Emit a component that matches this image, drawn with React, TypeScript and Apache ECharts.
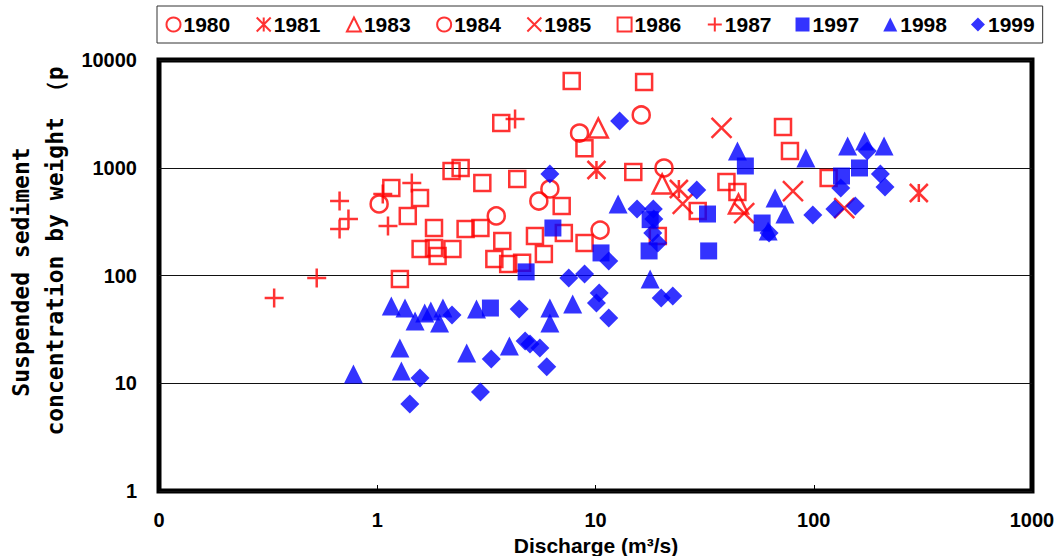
import React, { useEffect, useRef } from "react";
import * as echarts from "echarts";

const seriesNames = ["1980", "1981", "1983", "1984", "1985", "1986", "1987", "1997", "1998", "1999"];

const d1980 = [[1.02, 461], [5.5, 491], [10.5, 264], [20.6, 995]];
const d1981 = [[10.1, 953], [24.1, 635], [303, 583]];
const d1983 = [[10.3, 2340], [20.2, 707], [45.2, 461]];
const d1984 = [[3.51, 357], [6.18, 635], [8.45, 2100], [16.2, 3090]];
const d1985 = [[37.8, 2340], [80.3, 608], [25.1, 461], [48, 380], [138, 423]];
const d1986 = [
  [7.78, 6380], [16.7, 6250], [72.3, 2390], [77.8, 1430], [8.9, 1520], [14.9, 913], [39.8, 738],
  [44.7, 596], [117, 804], [29.4, 397], [1.16, 649], [1.57, 524], [1.38, 357], [2.41, 995],
  [2.19, 933], [3.03, 722], [1.82, 276], [2.54, 270], [2.97, 276], [1.58, 176], [1.82, 180],
  [1.89, 152], [2.21, 176], [3.44, 142], [1.27, 93], [3.7, 2600], [4.38, 787], [7.0, 442],
  [3.74, 209], [5.28, 233], [7.16, 248], [8.91, 200], [5.8, 158], [4.61, 131], [3.98, 128], [19.3, 233],
];
const d1987 = [[0.337, 61.8], [0.528, 94.8], [0.672, 491], [0.738, 334], [0.672, 270], [1.06, 571], [1.12, 288], [1.44, 722], [4.28, 2830]];
const d1997 = [[6.38, 276], [4.81, 108], [3.3, 49.9], [10.6, 162], [17.6, 169], [32.6, 372], [33, 169], [48.6, 1038], [134, 838], [162, 995], [58, 307], [17.8, 330]];
const d1998 = [
  [0.778, 12.2], [1.16, 52.1], [1.34, 49.9], [1.49, 37.8], [1.65, 44.9], [1.76, 46.9], [2.0, 49.9],
  [1.93, 36.2], [1.27, 21.2], [1.29, 13], [2.85, 48.9], [2.57, 19.1], [4.03, 22.2], [6.18, 49.9],
  [6.18, 36.2], [7.86, 54.4], [17.8, 92.9], [12.7, 461], [44.7, 1430], [92, 1231], [143, 1590],
  [171, 1770], [210, 1590], [66.5, 524], [73.8, 372], [61.8, 259],
];
const d1999 = [
  [12.9, 2720], [6.18, 875], [29.1, 622], [15.5, 414], [18.4, 414], [18.5, 334], [18.3, 248],
  [19.3, 200], [11.5, 136], [7.54, 94.8], [8.91, 103], [10.4, 68.8], [10.1, 55.6], [20, 61.8],
  [22.6, 64.5], [2.2, 43], [4.47, 48.9], [3.33, 16.8], [2.97, 8.3], [4.76, 24.7], [5.01, 23.1],
  [5.56, 21.2], [5.98, 14.2], [11.5, 40.3], [1.57, 11.2], [1.41, 6.42], [99, 364], [125, 414],
  [155, 442], [133, 649], [202, 875], [212, 662], [176, 1430], [62.4, 248],
];

const allData = [d1980, d1981, d1983, d1984, d1985, d1986, d1987, d1997, d1998, d1999];

const PLUS = "path://M0,5L10,5M5,0L5,10";
const CROSS = "path://M0,0L10,10M10,0L0,10";
const STAR = "path://M0,0L10,10M10,0L0,10M5,0L5,10";
const symbols = ["circle", STAR, "triangle", "circle", CROSS, "rect", PLUS, "rect", "triangle", "diamond"];
const sizes = [17, 18, 19, 17, 20, 16, 19, 17, 19, 19];
const filled = [false, false, false, false, false, false, false, true, true, true];

const FONT = '"Liberation Sans", Arial, sans-serif';

export default function App() {
  const ref = useRef<HTMLDivElement>(null);
  useEffect(() => {
    document.body.style.margin = "0";
    const chart = echarts.init(ref.current!, null, { renderer: "svg" });
    const series = seriesNames.map((name, i) => ({
      name,
      type: "scatter",
      data: allData[i],
      symbol: symbols[i],
      symbolSize: sizes[i],
      itemStyle: filled[i]
        ? { color: "#0000ff", borderWidth: 0 }
        : { color: "none", borderColor: "#ff0000", borderWidth: 2.5 },
      emphasis: { disabled: true },
    }));
    chart.setOption({
      animation: false,
      backgroundColor: "#fff",
      legend: {
        data: seriesNames,
        left: 157,
        top: 6,
        width: 900,
        padding: [8, 8, 8, 7],
        itemGap: 24,
        itemWidth: 14,
        itemHeight: 14,
        borderColor: "#333",
        borderWidth: 1,
        textStyle: { fontFamily: FONT, fontWeight: "bold", fontSize: 21, color: "#000", padding: [0, 0, 0, -2] },
      },
      grid: {
        left: 159,
        right: 27,
        top: 60,
        bottom: 65,
        show: true,
        borderColor: "#000",
        borderWidth: 5,
        backgroundColor: "#fff",
      },
      xAxis: {
        type: "log",
        logBase: 10,
        min: 0.1,
        max: 1000,
        axisLine: { show: false },
        axisTick: { show: true, inside: true, length: 6, lineStyle: { color: "#000", width: 1 } },
        splitLine: { show: false },
        axisLabel: {
          margin: 19,
          fontFamily: FONT,
          fontWeight: "bold",
          fontSize: 20,
          color: "#000",
          formatter: (v: number) => (v < 0.5 ? "0" : String(Math.round(v))),
        },
      },
      yAxis: {
        type: "log",
        logBase: 10,
        min: 1,
        max: 10000,
        axisLine: { show: false },
        axisTick: { show: false },
        splitLine: { show: true, lineStyle: { color: "#111", width: 1.2 } },
        axisLabel: {
          margin: 22,
          fontFamily: FONT,
          fontWeight: "bold",
          fontSize: 20,
          color: "#000",
          formatter: (v: number) => String(Math.round(v)),
        },
      },
      graphic: [
        {
          type: "text",
          x: 21,
          y: 272,
          rotation: Math.PI / 2,
          style: {
            text: "Suspended sediment",
            font: 'bold 23px "DejaVu Sans Mono", monospace',
            fill: "#000",
            align: "center",
            verticalAlign: "middle",
            textAlign: "center",
            textVerticalAlign: "middle",
          },
        },
        {
          type: "text",
          x: 55,
          y: 251,
          rotation: Math.PI / 2,
          style: {
            text: "concentration by weight （p",
            font: 'bold 23px "DejaVu Sans Mono", monospace',
            fill: "#000",
            align: "center",
            verticalAlign: "middle",
            textAlign: "center",
            textVerticalAlign: "middle",
          },
        },
        {
          type: "text",
          x: 596,
          y: 545,
          style: {
            text: "Discharge (m³/s)",
            font: 'bold 21px "Liberation Sans", Arial, sans-serif',
            fill: "#000",
            align: "center",
            verticalAlign: "middle",
            textAlign: "center",
            textVerticalAlign: "middle",
          },
        },
      ],
      series,
    });
    return () => chart.dispose();
  }, []);
  return <div ref={ref} style={{ width: 1059, height: 556 }} />;
}
